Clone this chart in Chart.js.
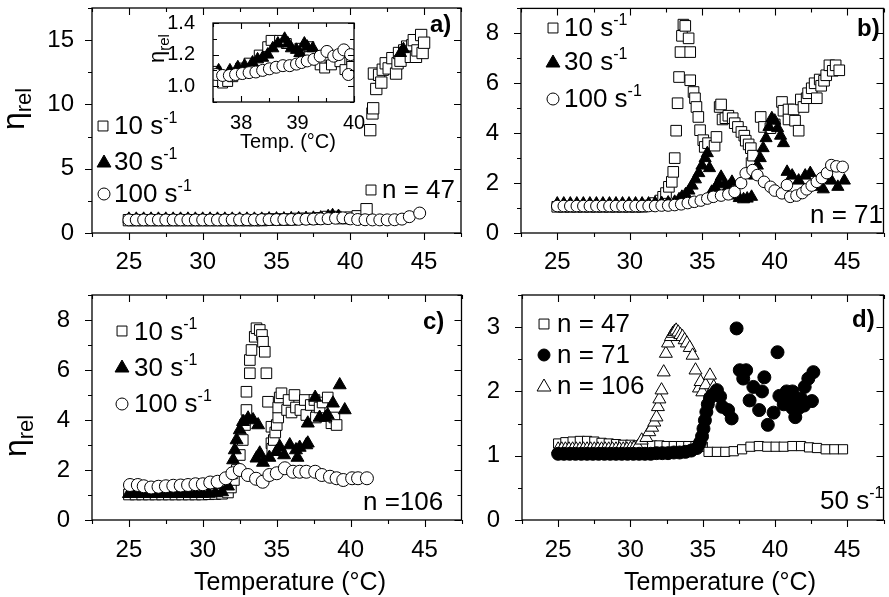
<!DOCTYPE html>
<html>
<head>
<meta charset="utf-8">
<script src="https://cdn.jsdelivr.net/npm/chart.js@4.4.1/dist/chart.umd.min.js"></script>
<style>
html, body { margin: 0; padding: 0; background: #fff; overflow: hidden; width: 889px; height: 597px; }
canvas { position: absolute; }
</style>
</head>
<body>
<canvas id="panelA"></canvas>
<canvas id="panelB"></canvas>
<canvas id="panelC"></canvas>
<canvas id="panelD"></canvas>
<canvas id="inset"></canvas>
<script>
const FONT = '"Liberation Sans", Arial, sans-serif';

// axis ticks
const tempTicks = [25, 30, 35, 40, 45];
const tempMinor = [22.5, 27.5, 32.5, 37.5, 42.5, 47.5];
const aTicks = [0, 5, 10, 15];
const aMinor = [2.5, 7.5, 12.5, 17.5];
const bcTicks = [0, 2, 4, 6, 8];
const bcMinor = [1, 3, 5, 7, 9];
const dTicks = [0, 1, 2, 3];
const dMinor = [0.5, 1.5, 2.5, 3.5];
const insetXTicks = [38, 39, 40];
const insetXMinor = [37.5, 38.5, 39.5];
const insetYTicks = [1.0, 1.2, 1.4];
const insetYMinor = [0.9, 1.1, 1.3];

// panel a) n = 47, [temperature, eta_rel]
const a10 = [[25,1.0],[25.5,1.0],[26,1.0],[26.5,1.0],[27,1.0],[27.5,1.0],[28,1.0],[28.5,1.0],[29,1.0],[29.5,1.0],
  [30,1.0],[30.5,1.0],[31,1.0],[31.5,1.0],[32,1.0],[32.5,1.0],[33,1.0],[33.5,1.0],[34,1.0],[34.5,1.05],[35,1.05],
  [35.5,1.05],[36,1.05],[36.5,1.1],[37,1.1],[37.5,1.1],[38,1.15],[38.5,1.25],[39,1.25],[39.5,1.15],[40,1.2],
  [40.5,1.3],[41.1,1.85],[41.35,8.0],[41.5,9.3],[41.55,9.7],[41.6,12.4],[41.76,11.2],[41.95,12.3],[42.1,11.7],
  [42.2,12.7],[42.4,13.2],[42.6,12.8],[42.85,13.6],[43.1,12.4],[43.2,13.2],[43.3,14.0],[43.4,13.4],[43.65,14.2],
  [43.85,14.5],[44.1,13.7],[44.2,14.6],[44.3,15.0],[44.45,13.7],[44.55,14.2],[44.8,15.4],[44.9,14.0],[45.0,14.8]];
const a30 = [[25,1.1],[25.5,1.1],[26,1.1],[26.5,1.1],[27,1.1],[27.5,1.1],[28,1.1],[28.5,1.1],[29,1.1],[29.5,1.1],
  [30,1.1],[30.5,1.1],[31,1.1],[31.5,1.1],[32,1.1],[32.5,1.1],[33,1.1],[33.5,1.1],[34,1.1],[34.5,1.12],[35,1.12],
  [35.5,1.12],[36,1.14],[36.5,1.15],[37,1.16],[37.5,1.18],[38,1.2],[38.5,1.3],[38.8,1.38],[39.2,1.32],
  [43.4,14.0],[43.6,14.3]];
const a100 = [[25,1.02],[25.5,1.02],[26,1.02],[26.5,1.02],[27,1.02],[27.5,1.02],[28,1.02],[28.5,1.02],[29,1.02],
  [29.5,1.02],[30,1.02],[30.5,1.02],[31,1.02],[31.5,1.02],[32,1.03],[32.5,1.03],[33,1.03],[33.5,1.03],[34,1.04],
  [34.5,1.04],[35,1.04],[35.5,1.05],[36,1.05],[36.5,1.06],[37,1.07],[37.5,1.08],[38,1.1],[38.5,1.12],[39,1.15],
  [39.5,1.18],[40,1.1],[40.5,1.05],[41,1.03],[41.5,1.02],[42,1.02],[42.5,1.02],[43,1.03],[43.5,1.08],[44,1.27],[44.7,1.55]];

// inset of panel a)
const in10 = [[37.55,1.094],[37.67,1.02],[37.76,1.03],[37.85,1.06],[37.99,1.115],[38.14,1.146],[38.32,1.197],
  [38.47,1.25],[38.53,1.29],[38.68,1.29],[38.8,1.27],[39.04,1.24],[39.2,1.25],[39.4,1.135],[39.48,1.115],
  [39.6,1.135],[39.75,1.155],[39.84,1.105],[39.96,1.166],[39.96,1.125]];
const in30 = [[37.6,1.1],[37.8,1.1],[37.94,1.12],[38.06,1.13],[38.2,1.15],[38.29,1.17],[38.38,1.18],[38.47,1.2],
  [38.56,1.24],[38.65,1.27],[38.77,1.3],[38.83,1.27],[38.89,1.24],[38.98,1.23],[39.04,1.21],[39.12,1.27],
  [39.17,1.25],[39.27,1.24]];
const in100 = [[37.55,1.074],[37.67,1.068],[37.79,1.068],[37.9,1.074],[38.02,1.08],[38.14,1.086],[38.26,1.09],
  [38.38,1.1],[38.5,1.11],[38.62,1.12],[38.74,1.13],[38.86,1.13],[38.98,1.14],[39.07,1.15],[39.17,1.16],
  [39.29,1.17],[39.4,1.19],[39.52,1.22],[39.64,1.19],[39.73,1.2],[39.82,1.23],[39.94,1.2],[39.9,1.074]];

// panel b) n = 71
const b10 = [[25,1.05],[25.45,1.05],[25.9,1.05],[26.35,1.05],[26.8,1.05],[27.25,1.05],[27.7,1.05],[28.15,1.05],
  [28.6,1.05],[29.05,1.05],[29.5,1.05],[29.95,1.05],[30.4,1.05],[30.85,1.05],[31.3,1.1],[31.75,1.2],[32.1,1.3],
  [32.3,1.45],[32.5,1.6],[32.7,1.85],[32.9,2.05],[33.0,2.45],[33.1,3.0],[33.2,4.1],[33.3,5.2],[33.4,6.25],
  [33.5,7.25],[33.6,7.9],[33.7,8.35],[33.83,8.3],[34.06,7.8],[34.17,7.25],[34.17,6.12],[34.4,5.65],[34.5,5.4],
  [34.6,5.05],[34.73,4.65],[34.85,4.12],[35.07,3.72],[35.17,3.45],[35.4,3.6],[35.85,3.5],[35.98,3.85],[36.2,5.05],
  [36.3,5.15],[36.4,4.55],[36.6,4.6],[36.8,4.7],[37.1,4.6],[37.24,4.4],[37.46,4.25],[37.7,4.05],[37.9,3.9],
  [38.0,3.7],[38.2,3.55],[38.35,3.4],[38.4,2.8],[38.5,3.1],[39.03,4.65],[39.26,4.25],[39.7,4.2],[40.0,4.35],
  [40.5,5.25],[40.6,4.9],[40.95,4.95],[40.95,4.55],[41.3,4.95],[41.4,4.5],[41.65,4.1],[41.8,5.35],[41.98,5.05],
  [42.2,5.4],[42.3,5.6],[42.55,5.8],[42.75,6.0],[42.9,5.4],[43.1,6.15],[43.2,5.9],[43.4,6.1],[43.55,6.32],
  [43.77,6.72],[44.0,6.5],[44.2,6.72],[44.45,6.52]];
const b30 = [[25,1.18],[25.45,1.18],[25.9,1.18],[26.35,1.18],[26.8,1.18],[27.25,1.18],[27.7,1.18],[28.15,1.18],
  [28.6,1.18],[29.05,1.18],[29.5,1.18],[29.95,1.18],[30.4,1.18],[30.85,1.18],[31.3,1.18],[31.75,1.2],[32.2,1.2],
  [32.65,1.22],[33.1,1.25],[33.4,1.35],[33.6,1.45],[33.85,1.55],[34.08,1.7],[34.3,1.9],[34.53,2.15],[34.76,2.4],
  [34.98,2.7],[35.2,3.0],[35.35,3.2],[35.5,2.6],[35.65,1.65],[35.9,1.8],[36.1,2.0],[36.3,2.25],[36.55,1.95],
  [36.8,1.85],[37.05,2.05],[37.3,1.5],[37.55,1.4],[37.85,1.35],[38.1,1.38],[38.4,1.45],[38.6,2.3],[38.8,2.7],
  [39.0,3.0],[39.2,3.4],[39.4,3.8],[39.6,4.25],[39.8,4.6],[40.0,4.5],[40.2,4.2],[40.4,3.9],[40.6,3.6],[40.85,2.45],
  [41.2,2.3],[41.65,2.1],[42.1,2.3],[42.45,2.4],[42.9,1.85],[43.35,1.75],[43.9,2.1],[44.35,1.85],[44.8,2.1]];
const b100 = [[25,1.08],[25.45,1.08],[25.9,1.08],[26.35,1.08],[26.8,1.08],[27.25,1.08],[27.7,1.08],[28.15,1.08],
  [28.6,1.08],[29.05,1.08],[29.5,1.08],[29.95,1.08],[30.4,1.08],[30.85,1.08],[31.3,1.08],[31.75,1.08],[32.2,1.1],
  [32.65,1.1],[33.1,1.12],[33.55,1.15],[34.0,1.2],[34.45,1.25],[34.9,1.3],[35.35,1.38],[35.76,1.45],[36.3,1.5],
  [36.8,1.55],[37.23,1.65],[37.68,2.0],[38.0,2.39],[38.47,2.52],[38.8,2.32],[39.26,2.05],[39.71,1.85],[40.0,1.7],
  [40.5,1.59],[40.84,1.92],[41.07,1.45],[41.5,1.5],[41.9,1.6],[42.2,1.75],[42.55,1.9],[42.9,2.05],[43.25,2.2],
  [43.6,2.4],[43.9,2.72],[44.25,2.67],[44.68,2.65]];

// panel c) n = 106
const c10 = [[25,1.02],[25.45,1.02],[25.9,1.02],[26.35,1.02],[26.8,1.02],[27.25,1.02],[27.7,1.02],[28.15,1.02],
  [28.6,1.02],[29.05,1.02],[29.5,1.02],[29.95,1.02],[30.4,1.03],[30.85,1.04],[31.3,1.05],[31.7,1.1],[31.9,1.3],
  [32.1,1.6],[32.3,2.0],[32.5,2.6],[32.7,3.2],[32.85,3.8],[32.95,4.4],[32.95,5.13],[33.18,5.87],[33.18,6.4],
  [33.29,6.8],[33.51,7.33],[33.63,7.67],[33.85,7.6],[34.0,7.4],[34.07,7.13],[34.19,6.73],[34.3,5.87],[34.41,4.73],
  [34.64,3.73],[34.64,3.07],[34.7,2.85],[34.8,3.2],[34.9,3.5],[35.0,3.8],[35.1,4.1],[35.1,4.5],[35.2,4.9],
  [35.32,5.07],[35.7,4.4],[35.8,4.8],[36.0,4.3],[36.2,5.0],[36.3,4.5],[36.6,4.4],[36.9,4.8],[37.0,4.2],[37.3,4.6],
  [37.55,4.8],[37.65,4.1],[37.9,4.5],[38.1,4.7],[38.45,4.9],[38.7,3.87],[38.9,4.1],[39.05,3.8]];
const c30 = [[25,1.05],[25.45,1.05],[25.9,1.05],[26.35,1.05],[26.8,1.05],[27.25,1.05],[27.7,1.05],[28.15,1.05],
  [28.6,1.05],[29.05,1.05],[29.5,1.05],[29.95,1.05],[30.4,1.06],[30.85,1.08],[31.3,1.12],[31.7,1.35],[31.9,1.8],
  [32.05,2.4],[32.16,2.8],[32.28,3.2],[32.5,3.6],[32.72,3.93],[33.06,4.07],[33.4,4.0],[33.74,3.8],[33.63,2.47],
  [33.85,2.67],[34.07,2.3],[34.5,2.5],[34.98,2.73],[35.2,2.93],[35.5,2.6],[35.88,3.0],[36.3,2.8],[36.4,2.5],
  [36.55,2.9],[37.0,3.0],[37.1,3.07],[37.1,3.87],[37.6,4.9],[37.9,4.1],[38.3,4.1],[38.45,4.2],[38.8,4.67],
  [39.26,5.4],[39.6,4.4]];
const c100 = [[25.07,1.4],[25.6,1.4],[26.0,1.35],[26.5,1.3],[27.0,1.33],[27.5,1.35],[28.0,1.37],[28.5,1.38],
  [29.0,1.4],[29.5,1.43],[30.0,1.43],[30.5,1.5],[31.0,1.53],[31.55,1.67],[32.0,1.87],[32.5,2.0],[33.05,1.8],
  [33.6,1.65],[34.05,1.53],[34.5,1.8],[35.0,1.87],[35.55,2.07],[36.1,1.93],[36.55,1.93],[37.0,1.93],[37.6,1.93],
  [38.05,1.8],[38.6,1.73],[39.05,1.67],[39.5,1.6],[40.1,1.67],[40.5,1.67],[41.1,1.67]];

// panel d) 50 s-1
const d47 = [[25,1.19],[25.5,1.21],[26,1.22],[26.5,1.23],[27,1.23],[27.5,1.22],[28,1.2],[28.5,1.19],[29,1.18],
  [29.5,1.17],[30,1.17],[30.5,1.16],[31,1.16],[31.5,1.16],[32,1.16],[32.5,1.15],[33,1.15],[33.5,1.15],[34,1.15],
  [34.5,1.15],[35,1.14],[35.4,1.06],[35.98,1.06],[36.56,1.06],[37.14,1.07],[37.72,1.1],[38.3,1.14],[38.88,1.15],
  [39.46,1.14],[40.04,1.14],[40.6,1.14],[41.2,1.15],[41.8,1.15],[42.35,1.13],[42.9,1.12],[43.5,1.1],[44.1,1.1],[44.7,1.1]];
const d71 = [[25,1.03],[25.4,1.03],[25.8,1.03],[26.2,1.03],[26.6,1.03],[27,1.03],[27.4,1.03],[27.8,1.03],[28.2,1.03],
  [28.6,1.03],[29,1.03],[29.4,1.03],[29.8,1.03],[30.2,1.03],[30.6,1.03],[31,1.03],[31.4,1.03],[31.8,1.04],[32.2,1.04],
  [32.6,1.04],[33,1.05],[33.4,1.05],[33.8,1.06],[34.2,1.08],[34.6,1.12],[34.8,1.2],[34.95,1.3],[35.05,1.42],
  [35.15,1.55],[35.25,1.68],[35.35,1.8],[35.5,1.9],[35.7,1.95],[35.98,2.02],[36.2,1.92],[36.35,1.76],[36.75,1.71],
  [37.0,1.58],[37.34,2.98],[37.56,2.33],[37.8,2.2],[38.0,2.33],[38.24,1.86],[38.5,2.07],[38.9,1.71],[39.1,2.0],
  [39.26,2.22],[39.5,1.48],[39.9,1.67],[40.17,2.61],[40.3,1.93],[40.6,1.8],[40.8,2.0],[41.05,1.85],[41.2,1.74],
  [41.2,2.0],[41.4,1.6],[41.63,1.74],[41.8,1.89],[42.0,1.78],[42.05,2.07],[42.3,2.2],[42.55,1.85],[42.65,2.3]];
const d106 = [[25,1.1],[25.25,1.1],[25.5,1.1],[25.75,1.1],[26,1.1],[26.25,1.1],[26.5,1.1],[26.75,1.1],[27,1.1],
  [27.25,1.1],[27.5,1.1],[27.75,1.1],[28,1.1],[28.25,1.1],[28.5,1.1],[28.75,1.1],[29,1.1],[29.25,1.1],[29.5,1.1],
  [29.75,1.1],[30,1.11],[30.25,1.12],[30.5,1.14],[30.78,1.24],[31.1,1.28],[31.3,1.37],[31.5,1.44],[31.65,1.52],
  [31.8,1.6],[31.9,1.76],[32.0,1.88],[32.15,2.02],[32.3,2.3],[32.45,2.59],[32.6,2.75],[32.8,2.85],[32.93,2.9],
  [33.05,2.93],[33.16,2.95],[33.3,2.92],[33.45,2.88],[33.6,2.85],[33.75,2.8],[33.9,2.75],[34.1,2.68],[34.3,2.56],
  [34.5,2.33],[34.74,2.05],[34.85,2.15],[34.97,1.99],[35.2,2.1],[35.5,2.25],[35.76,2.07]];

// ---------- drawing helpers ----------
function drawMark(ctx, style, x, y, r, filled) {
  ctx.beginPath();
  if (style === 'rect') {
    const s = r * Math.SQRT1_2;
    ctx.rect(x - s, y - s, 2 * s, 2 * s);
  } else if (style === 'triangle') {
    ctx.moveTo(x, y - r);
    ctx.lineTo(x + r * 0.866, y + r * 0.5);
    ctx.lineTo(x - r * 0.866, y + r * 0.5);
    ctx.closePath();
  } else {
    ctx.arc(x, y, r, 0, Math.PI * 2);
  }
  ctx.fillStyle = filled ? '#000' : '#fff';
  ctx.fill();
  ctx.lineWidth = 1;
  ctx.strokeStyle = '#000';
  ctx.stroke();
}

function drawParts(ctx, x, y, parts, align) {
  let w = 0;
  parts.forEach(p => {
    ctx.font = (p[3] ? 'bold ' : '') + p[1] + 'px ' + FONT;
    w += ctx.measureText(p[0]).width;
  });
  if (align === 'center') x -= w / 2;
  parts.forEach(p => {
    ctx.font = (p[3] ? 'bold ' : '') + p[1] + 'px ' + FONT;
    ctx.fillText(p[0], x, y + (p[2] || 0));
    x += ctx.measureText(p[0]).width;
  });
}

const framePlugin = {
  id: 'frame',
  beforeDatasetsDraw(chart, args, opts) {
    if (!opts.fill) return;
    const a = chart.chartArea;
    chart.ctx.fillStyle = '#fff';
    chart.ctx.fillRect(a.left, a.top, a.right - a.left, a.bottom - a.top);
  },
  afterDraw(chart, args, opts) {
    const ctx = chart.ctx, a = chart.chartArea, xs = chart.scales.x, ys = chart.scales.y;
    ctx.save();
    ctx.strokeStyle = '#000';
    ctx.lineWidth = 1.3;
    ctx.strokeRect(a.left, a.top, a.right - a.left, a.bottom - a.top);
    ctx.lineWidth = 1.1;
    const out = opts.inward ? -1 : 1;
    const major = opts.major, minor = opts.minor;
    function xt(vals, len) {
      vals.forEach(v => {
        const px = Math.round(xs.getPixelForValue(v)) + 0.5;
        ctx.beginPath();
        ctx.moveTo(px, a.bottom); ctx.lineTo(px, a.bottom + out * len);
        ctx.moveTo(px, a.top); ctx.lineTo(px, a.top + len);
        ctx.stroke();
      });
    }
    function yt(vals, len) {
      vals.forEach(v => {
        const py = Math.round(ys.getPixelForValue(v)) + 0.5;
        ctx.beginPath();
        ctx.moveTo(a.left, py); ctx.lineTo(a.left - out * len, py);
        ctx.moveTo(a.right, py); ctx.lineTo(a.right - len, py);
        ctx.stroke();
      });
    }
    xt(opts.xMajor, major); xt(opts.xMinor, minor);
    yt(opts.yMajor, major); yt(opts.yMinor, minor);
    ctx.restore();
  }
};

const notesPlugin = {
  id: 'notes',
  afterDraw(chart, args, opts) {
    const ctx = chart.ctx;
    ctx.save();
    ctx.translate(-opts.left, -opts.top);
    ctx.fillStyle = '#000';
    ctx.textBaseline = 'alphabetic';
    opts.items.forEach(it => {
      if (it.mark) {
        drawMark(ctx, it.mark, it.x, it.y, it.r, it.filled);
      } else if (it.rotate) {
        ctx.save();
        ctx.translate(it.x, it.y);
        ctx.rotate(-Math.PI / 2);
        ctx.fillStyle = '#000';
        drawParts(ctx, 0, 0, it.parts);
        ctx.restore();
      } else {
        ctx.fillStyle = '#000';
        drawParts(ctx, it.x, it.y, it.parts, it.align);
      }
    });
    ctx.restore();
  }
};

function series(data, style, r, filled, order) {
  return {
    data: data.map(p => ({ x: p[0], y: p[1] })),
    pointStyle: style,
    pointRadius: r,
    pointHoverRadius: r,
    pointBorderWidth: 1,
    backgroundColor: filled ? '#000' : '#fff',
    borderColor: '#000',
    showLine: false,
    order: order
  };
}

function makePanel(id, box, cfg) {
  const c = document.getElementById(id);
  c.width = box.w; c.height = box.h;
  c.style.left = box.left + 'px'; c.style.top = box.top + 'px';
  return new Chart(c, {
    type: 'scatter',
    data: { datasets: cfg.datasets },
    options: {
      responsive: false,
      animation: false,
      devicePixelRatio: 1,
      layout: { padding: { top: box.pt, right: box.pr, left: 0, bottom: 0 } },
      plugins: {
        legend: { display: false },
        tooltip: { enabled: false },
        frame: {
          xMajor: cfg.xTicks, xMinor: cfg.xMinor, yMajor: cfg.yTicks, yMinor: cfg.yMinor,
          major: cfg.major || 7, minor: cfg.minor || 4, inward: cfg.inward, fill: cfg.fill
        },
        notes: { left: box.left, top: box.top, items: cfg.notes }
      },
      scales: {
        x: {
          type: 'linear', min: cfg.xMin, max: cfg.xMax,
          afterBuildTicks: s => { s.ticks = cfg.xTicks.map(v => ({ value: v })); },
          afterFit: s => { s.height = box.xh; },
          grid: { display: false }, border: { display: false },
          ticks: { padding: cfg.xPad, autoSkip: false, maxRotation: 0, color: '#000',
            font: { family: FONT, size: cfg.tickSize },
            callback: cfg.xFmt || (v => String(v)) }
        },
        y: {
          type: 'linear', min: cfg.yMin, max: cfg.yMax,
          afterBuildTicks: s => { s.ticks = cfg.yTicks.map(v => ({ value: v })); },
          afterFit: s => { s.width = box.yw; },
          grid: { display: false }, border: { display: false },
          ticks: { padding: cfg.yPad, autoSkip: false, color: '#000',
            font: { family: FONT, size: cfg.tickSize },
            callback: cfg.yFmt || (v => String(v)) }
        }
      }
    },
    plugins: [framePlugin, notesPlugin]
  });
}

const SUB = 16, LEG = 26, TICK = 24;
function rateLabel(x, y, n) {
  return { x: x, y: y, parts: [[n + ' s', LEG], ['-1', SUB, -11]] };
}
function etaLabel(x, y, big, small) {
  return { x: x, y: y, rotate: true, parts: [['\u03b7', big], ['rel', small, Math.round(small * 0.3)]] };
}

// a)
makePanel('panelA', { left: 0, top: -20, w: 470, h: 290, pt: 28, pr: 8, yw: 92, xh: 37 }, {
  datasets: [series(a100, 'circle', 6, false, 0), series(a30, 'triangle', 7, true, 1), series(a10, 'rect', 8, false, 2)],
  xMin: 22.5, xMax: 47.5, yMin: 0, yMax: 17.5,
  xTicks: tempTicks, xMinor: tempMinor, yTicks: aTicks, yMinor: aMinor,
  tickSize: TICK, xPad: 7, yPad: 10,
  notes: [
    etaLabel(24, 130, 32, 22),
    { mark: 'rect', x: 103, y: 126, r: 7, filled: false }, rateLabel(114, 134, '10'),
    { mark: 'triangle', x: 104, y: 163, r: 8, filled: true }, rateLabel(114, 170, '30'),
    { mark: 'circle', x: 104, y: 194, r: 6, filled: false }, rateLabel(114, 202, '100'),
    { mark: 'rect', x: 371, y: 190, r: 7, filled: false },
    { x: 382, y: 198, parts: [['n = 47', LEG]] },
    { x: 430, y: 32, parts: [['a)', 24, 0, true]] }
  ]
});

// b)
makePanel('panelB', { left: 470, top: -20, w: 422, h: 290, pt: 28, pr: 2, yw: 51, xh: 37 }, {
  datasets: [series(b100, 'circle', 5.8, false, 0), series(b30, 'triangle', 7, true, 1), series(b10, 'rect', 7.5, false, 2)],
  xMin: 22.5, xMax: 47.5, yMin: 0, yMax: 9,
  xTicks: tempTicks, xMinor: tempMinor, yTicks: bcTicks, yMinor: bcMinor,
  tickSize: TICK, xPad: 7, yPad: 14,
  notes: [
    { mark: 'rect', x: 553, y: 28, r: 7, filled: false }, rateLabel(564, 36, '10'),
    { mark: 'triangle', x: 553, y: 63, r: 8, filled: true }, rateLabel(564, 70, '30'),
    { mark: 'circle', x: 553, y: 99, r: 6, filled: false }, rateLabel(564, 107, '100'),
    { x: 810, y: 223, parts: [['n = 71', LEG]] },
    { x: 857, y: 36, parts: [['b)', 24, 0, true]] }
  ]
});

// c)
makePanel('panelC', { left: 0, top: 262, w: 470, h: 335, pt: 33, pr: 8, yw: 92, xh: 77 }, {
  datasets: [series(c100, 'circle', 6.5, false, 0), series(c30, 'triangle', 7.5, true, 1), series(c10, 'rect', 7.5, false, 2)],
  xMin: 22.5, xMax: 47.5, yMin: 0, yMax: 9,
  xTicks: tempTicks, xMinor: tempMinor, yTicks: bcTicks, yMinor: bcMinor,
  tickSize: TICK, xPad: 8, yPad: 14,
  notes: [
    etaLabel(26, 457, 32, 22),
    { mark: 'rect', x: 122, y: 331, r: 7, filled: false }, rateLabel(134, 340, '10'),
    { mark: 'triangle', x: 122, y: 368, r: 8, filled: true }, rateLabel(134, 376, '30'),
    { mark: 'circle', x: 122, y: 404, r: 6, filled: false }, rateLabel(134, 412, '100'),
    { x: 363, y: 510, parts: [['n =106', LEG]] },
    { x: 423, y: 329, parts: [['c)', 24, 0, true]] },
    { x: 290, y: 590, align: 'center', parts: [['Temperature (\u00b0C)', 25]] }
  ]
});

// d)
makePanel('panelD', { left: 470, top: 262, w: 422, h: 335, pt: 33, pr: 2, yw: 52, xh: 77 }, {
  datasets: [series(d71, 'circle', 6.5, true, 0), series(d106, 'triangle', 7.5, false, 1), series(d47, 'rect', 6.5, false, 2)],
  xMin: 22.5, xMax: 47.5, yMin: 0, yMax: 3.5,
  xTicks: tempTicks, xMinor: tempMinor, yTicks: dTicks, yMinor: dMinor,
  tickSize: TICK, xPad: 8, yPad: 14,
  notes: [
    { mark: 'rect', x: 544, y: 324, r: 7, filled: false }, { x: 557, y: 332, parts: [['n = 47', LEG]] },
    { mark: 'circle', x: 544, y: 355, r: 6, filled: true }, { x: 557, y: 363, parts: [['n = 71', LEG]] },
    { mark: 'triangle', x: 544, y: 387, r: 8, filled: false }, { x: 557, y: 394, parts: [['n = 106', LEG]] },
    { x: 852, y: 327, parts: [['d)', 24, 0, true]] },
    { x: 820, y: 509, parts: [['50 s', LEG], ['-1', SUB, -11]] },
    { x: 720, y: 590, align: 'center', parts: [['Temperature (\u00b0C)', 25]] }
  ]
});

// inset of a)
makePanel('inset', { left: 140, top: -5, w: 240, h: 180, pt: 28, pr: 26, yw: 73, xh: 73 }, {
  datasets: [series(in100, 'circle', 6, false, 0), series(in30, 'triangle', 7, true, 1), series(in10, 'rect', 7, false, 2)],
  xMin: 37.5, xMax: 40, yMin: 0.9, yMax: 1.4,
  xTicks: insetXTicks, xMinor: insetXMinor, yTicks: insetYTicks, yMinor: insetYMinor,
  tickSize: 20, xPad: 1, yPad: 10, major: 6, minor: 4, inward: true, fill: true,
  yFmt: v => v.toFixed(1),
  notes: [
    etaLabel(164, 63, 22, 15),
    { x: 288, y: 148, align: 'center', parts: [['Temp. (\u00b0C)', 20]] }
  ]
});
</script>
</body>
</html>
